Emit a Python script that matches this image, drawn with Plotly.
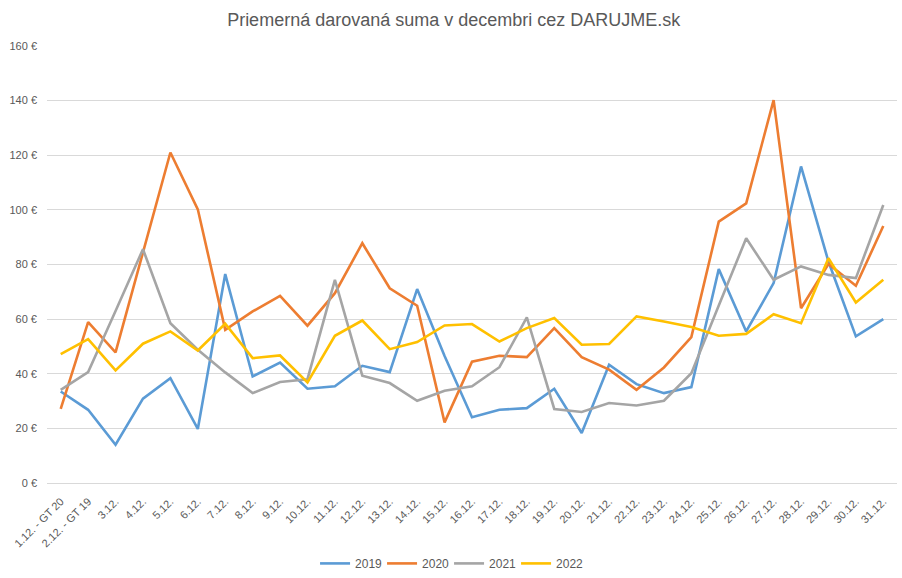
import plotly.graph_objects as go

categories = ["1.12. - GT 20", "2.12. - GT 19"] + [f"{d}.12." for d in range(3, 32)]

v2019 = [33.5, 26.8, 14.0, 30.9, 38.4, 19.8, 76.5, 39.0, 44.1, 34.5, 35.4, 42.9, 40.6, 71.0, 46.5,
         24.1, 26.8, 27.4, 34.5, 18.3, 43.3, 36.2, 32.9, 35.1, 78.3, 55.5, 73.2, 115.9, 81.1, 53.7, 60.0]
v2020 = [27.1, 58.9, 47.8, 84.5, 121.0, 100.2, 56.1, 62.8, 68.5, 57.6, 69.5, 87.8, 71.3, 64.9, 22.2,
         44.4, 46.6, 46.1, 56.7, 46.1, 41.5, 34.1, 42.3, 53.4, 95.7, 102.4, 140.2, 64.0, 80.2, 72.2, 94.1]
v2021 = [34.1, 40.6, 63.0, 85.6, 58.5, 48.8, 40.5, 32.9, 37.0, 38.0, 74.4, 39.3, 36.6, 30.1, 33.8,
         35.4, 42.4, 60.6, 27.1, 26.0, 29.3, 28.4, 30.1, 40.2, 65.0, 89.6, 74.4, 79.3, 76.2, 75.0, 101.8]
v2022 = [47.2, 52.7, 41.2, 51.0, 55.5, 48.5, 58.3, 45.7, 46.7, 36.8, 53.9, 59.5, 49.0, 51.6, 57.7,
         58.2, 51.8, 56.7, 60.4, 50.6, 50.9, 61.0, 59.1, 57.1, 53.9, 54.6, 61.8, 58.5, 82.3, 66.1, 74.4]

series = [("2019", v2019, "#5B9BD5"), ("2020", v2020, "#ED7D31"),
          ("2021", v2021, "#A5A5A5"), ("2022", v2022, "#FFC000")]

fig = go.Figure()
for name, vals, color in series:
    fig.add_trace(go.Scatter(x=categories, y=vals, mode="lines", name=name,
                             line=dict(color=color, width=2.6)))

fig.update_layout(
    width=902, height=578,
    paper_bgcolor="white", plot_bgcolor="white",
    margin=dict(l=46.5, r=4.5, t=46, b=94.7, autoexpand=False),
    title=dict(text="Priemerná darovaná suma v decembri cez DARUJME.sk",
               x=0.503, xanchor="center", y=1 - 20 / 578, yanchor="middle",
               font=dict(family="Liberation Sans", size=18, color="#595959")),
    font=dict(family="Liberation Sans", size=11, color="#595959"),
    showlegend=True,
    legend=dict(orientation="h", x=0.473, xanchor="center", y=-0.184, yanchor="middle",
                font=dict(size=12, color="#595959"), itemwidth=30,
                entrywidth=22, entrywidthmode="pixels"),
)
fig.update_xaxes(type="category", range=[-0.5, 30.5], tickangle=-45, showgrid=False,
                 showline=False, ticks="", tickfont=dict(size=11, color="#595959"),
                 ticklabelstandoff=9)
fig.update_yaxes(range=[0, 160], dtick=20, ticksuffix=" €", showgrid=True, gridcolor="#D9D9D9",
                 gridwidth=1, zeroline=True, zerolinecolor="#D9D9D9", zerolinewidth=1,
                 tickfont=dict(size=11, color="#595959"), ticks="", ticklen=0,
                 ticklabelstandoff=9)

fig.write_html("out.html", config={"displayModeBar": False})
with open("out.html", encoding="utf-8") as f:
    html = f.read()
html = html.replace("<body>", '<body style="margin:0;padding:0">', 1)
with open("out.html", "w", encoding="utf-8") as f:
    f.write(html)
